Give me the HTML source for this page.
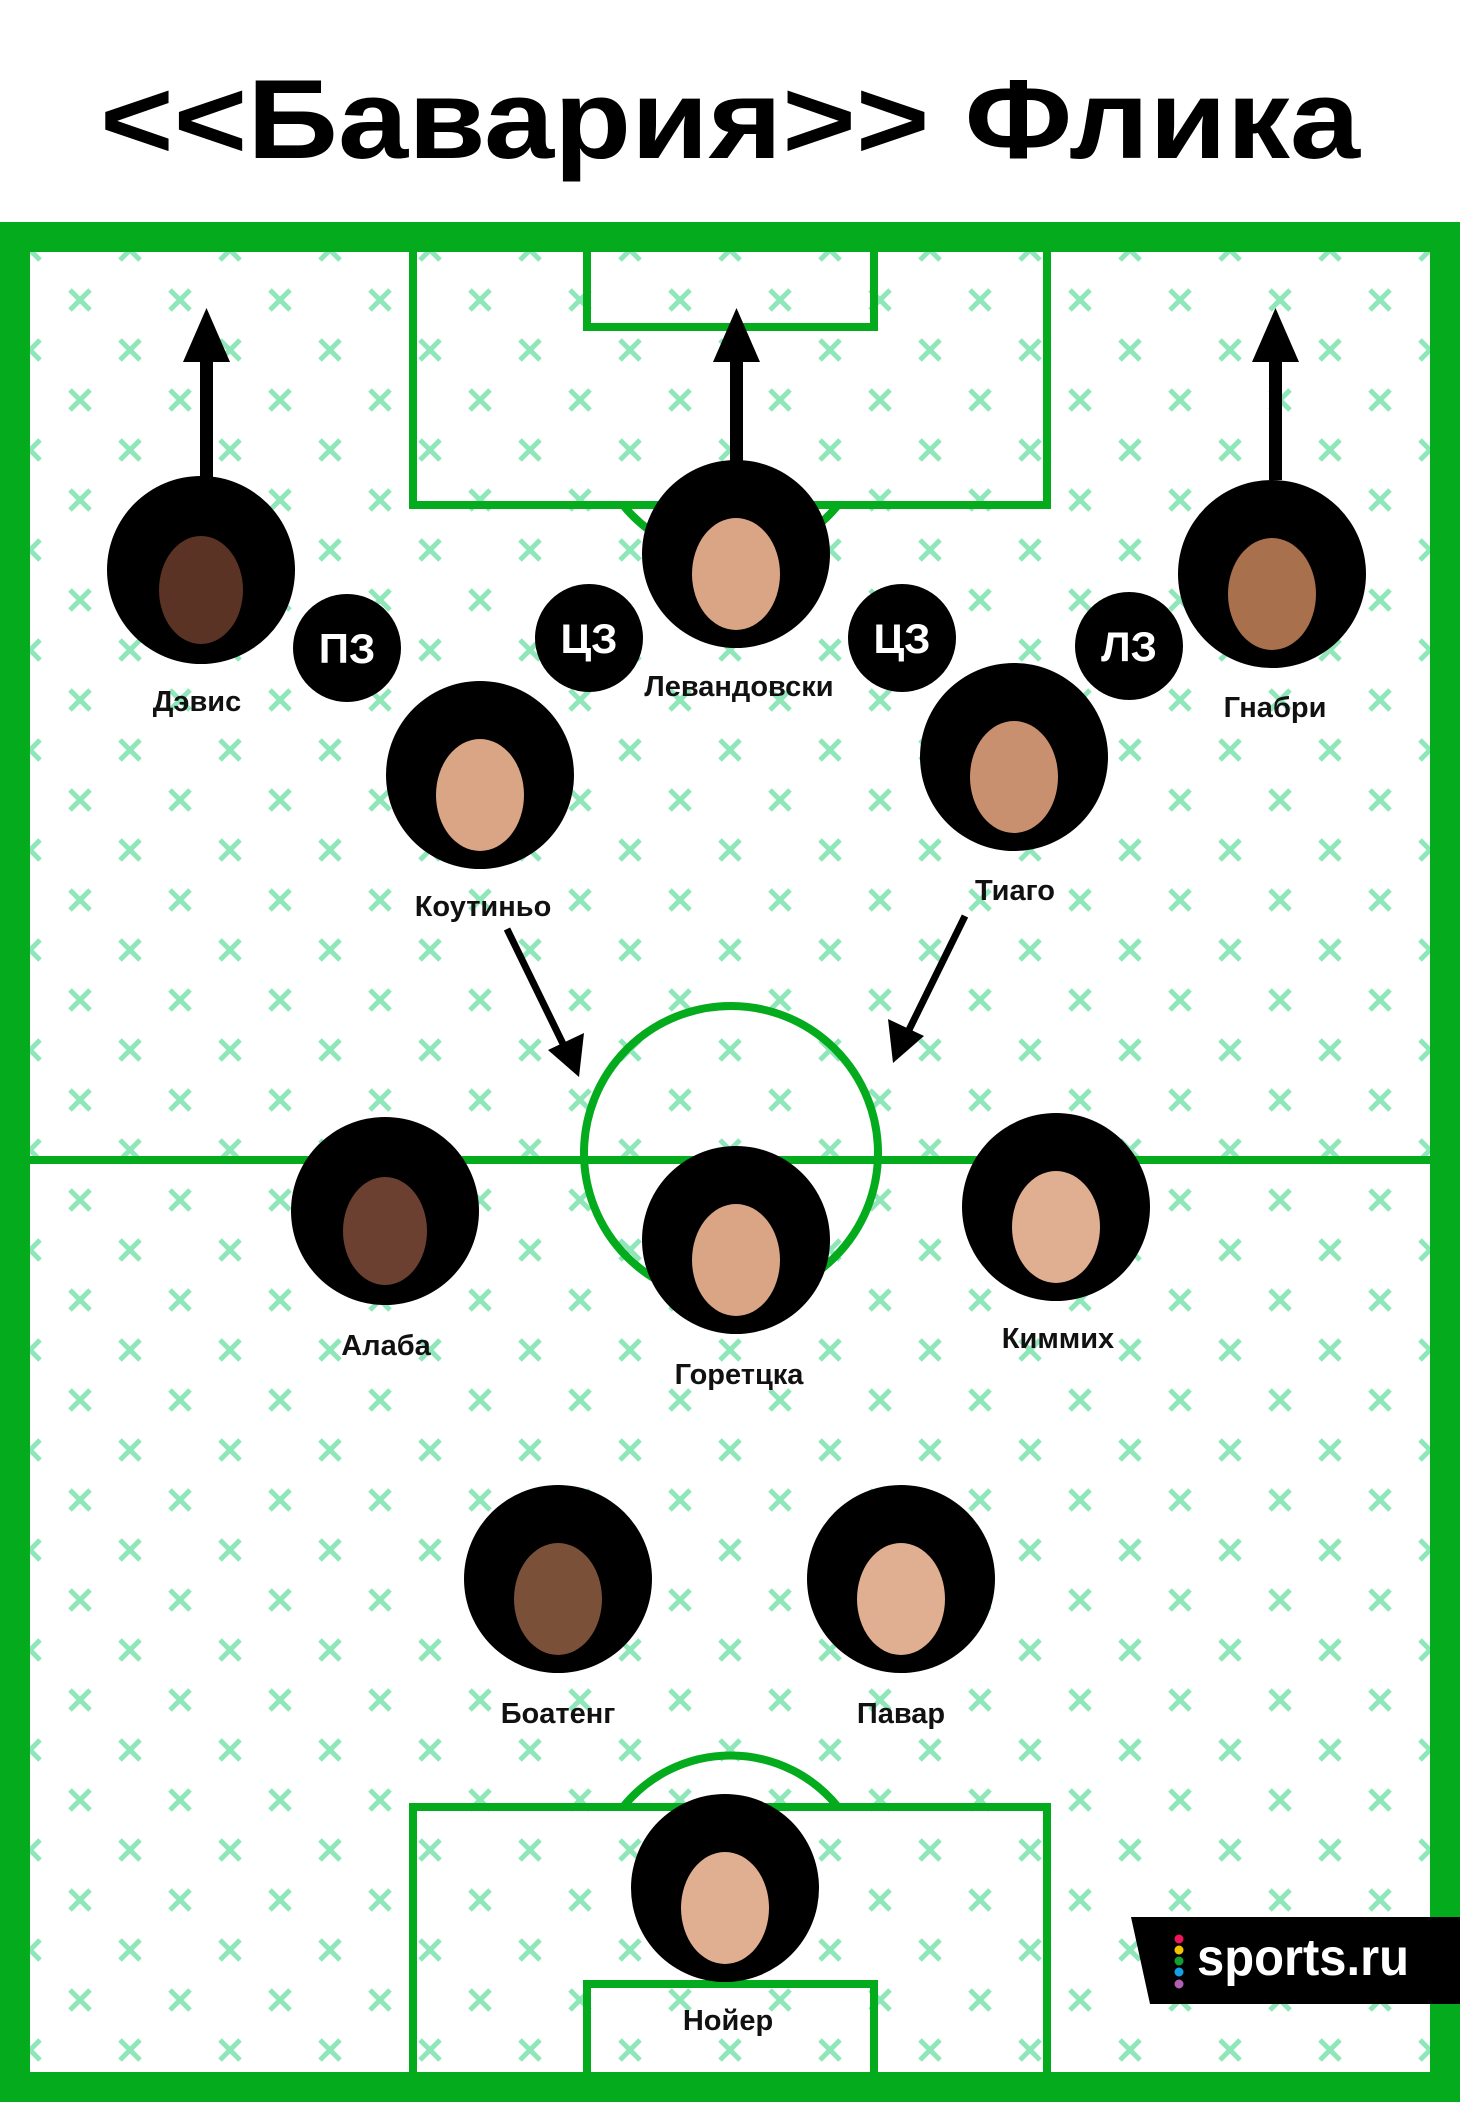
<!DOCTYPE html>
<html><head><meta charset="utf-8"><style>html,body{margin:0;padding:0;background:#fff}svg{display:block}</style></head>
<body>
<svg xmlns="http://www.w3.org/2000/svg" width="1460" height="2102" viewBox="0 0 1460 2102">
<defs>
<pattern id="x" x="50" y="0" width="100" height="100" patternUnits="userSpaceOnUse">
<g stroke="#8fe6b8" stroke-width="5">
<path d="M70 40l20 20M90 40l-20 20"/>
<path d="M20 -10l20 20M40 -10l-20 20"/>
<path d="M20 90l20 20M40 90l-20 20"/>
</g>
</pattern>
</defs>
<rect width="1460" height="2102" fill="#fff"/>
<text x="730" y="158" text-anchor="middle" font-family="Liberation Sans, sans-serif" font-weight="bold" font-size="112" textLength="1260" lengthAdjust="spacingAndGlyphs" fill="#000">&lt;&lt;Бавария&gt;&gt; Флика</text>
<rect x="0" y="222" width="1460" height="1880" fill="#03ab1d"/>
<rect x="30" y="252" width="1400" height="1820" fill="#fff"/>
<rect x="30" y="252" width="1400" height="1820" fill="url(#x)"/>
<g fill="none" stroke="#03ab1d" stroke-width="8">
<rect x="413" y="248" width="634" height="257"/>
<rect x="587" y="248" width="287" height="79"/>
<path d="M623 505 A138 138 0 0 0 838 505"/>
<line x1="30" y1="1160" x2="1430" y2="1160"/>
<circle cx="731" cy="1153" r="147"/>
<rect x="413" y="1807" width="634" height="269"/>
<rect x="587" y="1984" width="287" height="92"/>
<path d="M623 1807 A138 138 0 0 1 838 1807"/>
</g>
<g fill="#000">
<rect x="200" y="355" width="13" height="125"/><path d="M183 362h47l-23.5-54z"/>
<rect x="730" y="355" width="13" height="115"/><path d="M713 362h47l-23.5-54z"/>
<rect x="1269" y="355" width="13" height="125"/><path d="M1252 362h47l-23.5-54z"/>
</g>
<g stroke="#000" stroke-width="7"><line x1="507" y1="929" x2="566" y2="1050"/><line x1="965" y1="916" x2="906" y2="1036"/></g>
<g fill="#000"><path d="M579 1077 L548 1050 L584 1033z"/><path d="M893 1063 L888 1019 L924 1036z"/></g>
<g font-family="Liberation Sans, sans-serif" font-weight="bold">
<g>
<circle cx="201" cy="570" r="94" fill="#000"/><ellipse cx="201" cy="590" rx="42" ry="54" fill="#5a3325"/>
<circle cx="736" cy="554" r="94" fill="#000"/><ellipse cx="736" cy="574" rx="44" ry="56" fill="#d9a585"/>
<circle cx="1272" cy="574" r="94" fill="#000"/><ellipse cx="1272" cy="594" rx="44" ry="56" fill="#a8704c"/>
<circle cx="480" cy="775" r="94" fill="#000"/><ellipse cx="480" cy="795" rx="44" ry="56" fill="#d9a585"/>
<circle cx="1014" cy="757" r="94" fill="#000"/><ellipse cx="1014" cy="777" rx="44" ry="56" fill="#c99070"/>
<circle cx="385" cy="1211" r="94" fill="#000"/><ellipse cx="385" cy="1231" rx="42" ry="54" fill="#6b4030"/>
<circle cx="736" cy="1240" r="94" fill="#000"/><ellipse cx="736" cy="1260" rx="44" ry="56" fill="#d9a585"/>
<circle cx="1056" cy="1207" r="94" fill="#000"/><ellipse cx="1056" cy="1227" rx="44" ry="56" fill="#e0ae90"/>
<circle cx="558" cy="1579" r="94" fill="#000"/><ellipse cx="558" cy="1599" rx="44" ry="56" fill="#7a5038"/>
<circle cx="901" cy="1579" r="94" fill="#000"/><ellipse cx="901" cy="1599" rx="44" ry="56" fill="#e0ae90"/>
<circle cx="725" cy="1888" r="94" fill="#000"/><ellipse cx="725" cy="1908" rx="44" ry="56" fill="#e0ae90"/>
</g>
<g font-size="29" text-anchor="middle" fill="#111">
<text x="197" y="711">Дэвис</text>
<text x="739" y="696">Левандовски</text>
<text x="1275" y="717">Гнабри</text>
<text x="483" y="916">Коутиньо</text>
<text x="1015" y="900">Тиаго</text>
<text x="386" y="1355">Алаба</text>
<text x="739" y="1384">Горетцка</text>
<text x="1058" y="1348">Киммих</text>
<text x="558" y="1723">Боатенг</text>
<text x="901" y="1723">Павар</text>
<text x="728" y="2030">Нойер</text>
</g>
<g fill="#000">
<circle cx="347" cy="648" r="54"/><circle cx="589" cy="638" r="54"/><circle cx="902" cy="638" r="54"/><circle cx="1129" cy="646" r="54"/>
</g>
<g font-size="42" text-anchor="middle" fill="#fff">
<text x="347" y="663">ПЗ</text><text x="589" y="653">ЦЗ</text><text x="902" y="653">ЦЗ</text><text x="1129" y="661">ЛЗ</text>
</g>
<path d="M1131 1917 H1460 V2004 H1150z" fill="#000"/>
<circle cx="1179" cy="1939" r="4.5" fill="#f0145a"/><circle cx="1179" cy="1950" r="4.5" fill="#f5c400"/><circle cx="1179" cy="1961" r="4.5" fill="#14a030"/><circle cx="1179" cy="1972" r="4.5" fill="#12a0e8"/><circle cx="1179" cy="1984" r="4.5" fill="#b060b0"/>
<text x="1197" y="1975" font-size="52" fill="#fff" textLength="212" lengthAdjust="spacingAndGlyphs">sports.ru</text>
</g>
</svg>
</body></html>
